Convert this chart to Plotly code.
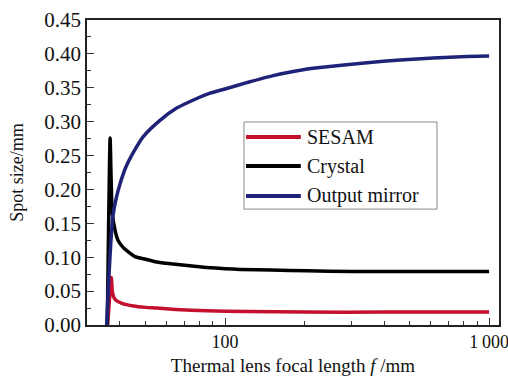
import plotly.graph_objects as go
import numpy as np

# Data (focal length in mm, spot size in mm)
f_sesam = [35.9, 36.6, 37.1, 37.4, 37.8, 38.5, 40.7, 45, 50, 55, 65, 85, 120, 200, 400, 1000]
w_sesam = [0.0, 0.045, 0.070, 0.050, 0.042, 0.037, 0.032, 0.028, 0.026, 0.025, 0.023, 0.021, 0.020, 0.019, 0.019, 0.019]

f_crystal = [35.8, 36.2, 36.7, 37.0, 37.4, 38.3, 39.3, 41.0, 43.0, 45.6, 50, 55, 63.5, 75, 85, 100, 114, 150, 204, 300, 500, 1000]
w_crystal = [0.0, 0.14, 0.276, 0.22, 0.165, 0.140, 0.125, 0.115, 0.108, 0.101, 0.097, 0.093, 0.090, 0.087, 0.085, 0.083, 0.082, 0.081, 0.080, 0.079, 0.079, 0.079]

f_mirror = [35.6, 36.2, 36.9, 37.6, 38.6, 40.0, 42.0, 45.0, 49.0, 56.7, 65.6, 75.9, 87.7, 101.5, 120.8, 152, 200, 229, 345, 460, 614, 826, 1000]
w_mirror = [0.0, 0.06, 0.12, 0.160, 0.185, 0.208, 0.232, 0.255, 0.278, 0.302, 0.320, 0.332, 0.342, 0.349, 0.3575, 0.368, 0.377, 0.380, 0.387, 0.391, 0.394, 0.396, 0.397]

series_names = ["SESAM", "Crystal", "Output mirror"]
series_colors = ["#C4102E", "#000000", "#1F2378"]

x_tickvals = [100, 1000]
x_ticktext = ["100", "1\u2009000"]
x_minor = [40, 50, 60, 70, 80, 90, 200, 300, 400, 500, 600, 700, 800, 900]
y_tickvals = [0.0, 0.05, 0.10, 0.15, 0.20, 0.25, 0.30, 0.35, 0.40, 0.45]
y_ticktext = ["0.00", "0.05", "0.10", "0.15", "0.20", "0.25", "0.30", "0.35", "0.40", "0.45"]

FONT = "Liberation Serif"

fig = go.Figure()
for fx, wy, name, col in zip([f_sesam, f_crystal, f_mirror],
                             [w_sesam, w_crystal, w_mirror],
                             series_names, series_colors):
    fig.add_trace(go.Scatter(x=fx, y=wy, mode="lines", name=name,
                             line=dict(color=col, width=3.5, shape="spline", smoothing=0.6),
                             showlegend=False))

fig.update_layout(
    width=508, height=376,
    margin=dict(l=87, r=9, t=20, b=51),
    paper_bgcolor="white", plot_bgcolor="white",
    font=dict(family=FONT, size=19, color="#111"),
)
fig.update_xaxes(
    type="log", range=[np.log10(30), np.log10(1090)],
    tickvals=x_tickvals, ticktext=x_ticktext,
    ticks="inside", ticklen=7, tickwidth=1.2, tickcolor="#333",
    minor=dict(tickvals=x_minor, ticks="inside", ticklen=4, tickwidth=1.2, tickcolor="#333"),
    showline=True, linecolor="#222", linewidth=1.6, mirror=True,
    showgrid=False, zeroline=False, automargin=False, ticklabeloverflow="allow",
    title=dict(text="Thermal lens focal length <i>f</i> /mm", font=dict(size=19), standoff=8),
    tickfont=dict(size=18),
)
fig.update_yaxes(
    range=[0, 0.45], tickvals=y_tickvals, ticktext=y_ticktext,
    ticks="inside", ticklen=7, tickwidth=1.2, tickcolor="#333",
    minor=dict(dtick=0.025, tick0=0, ticks="inside", ticklen=4, tickwidth=1.2, tickcolor="#333"),
    showline=True, linecolor="#222", linewidth=1.6, mirror=True,
    showgrid=False, zeroline=False, automargin=False, ticklabeloverflow="allow",
    title=dict(text="Spot size/mm", font=dict(size=18), standoff=16),
    tickfont=dict(size=21),
)

# Custom legend (box, sample lines, labels)
legend_y = [0.616, 0.521, 0.423]
fig.add_shape(type="rect", xref="paper", yref="paper", x0=0.381, x1=0.8495, y0=0.380, y1=0.6656,
              line=dict(color="#888", width=1), fillcolor="white", layer="above")
for name, col, ly in zip(series_names, series_colors, legend_y):
    fig.add_shape(type="line", xref="paper", yref="paper", x0=0.386, x1=0.519, y0=ly, y1=ly,
                  line=dict(color=col, width=4), layer="above")
    fig.add_annotation(xref="paper", yref="paper", x=0.530, y=ly, text=name, showarrow=False,
                       xanchor="left", yanchor="middle", font=dict(family=FONT, size=20, color="#111"))

fig.write_html("out.html", config={"displayModeBar": False},
               post_script="document.body.style.margin='0';document.body.style.overflow='hidden';")
